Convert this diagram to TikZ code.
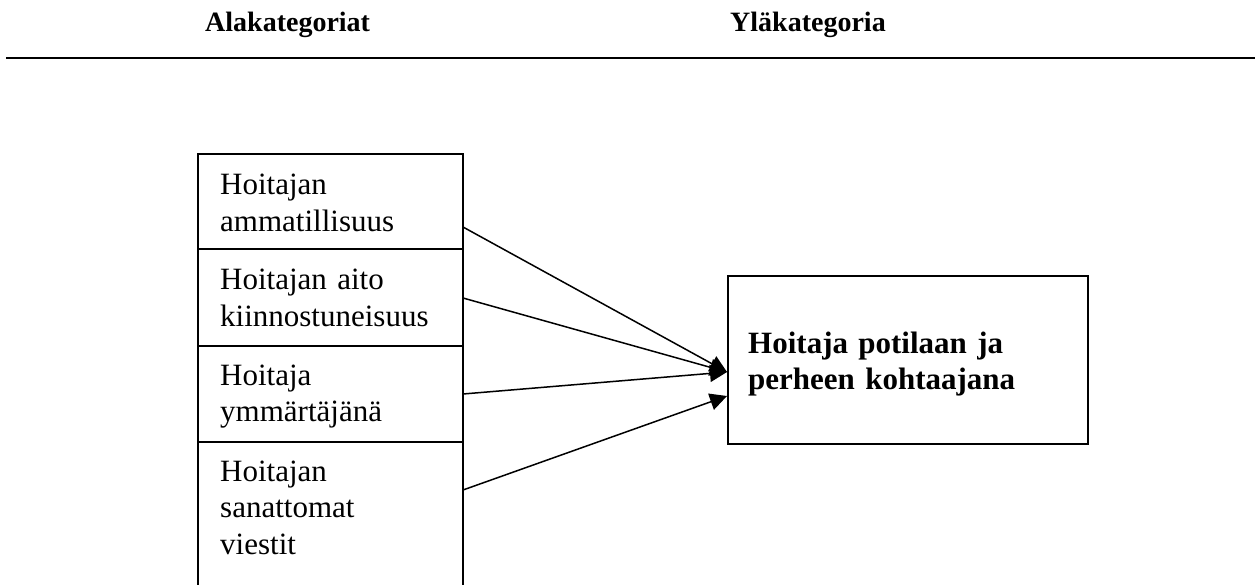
\documentclass[tikz,border=0pt]{standalone}
\usepackage{fontspec}
\setmainfont{Liberation Serif}
\usetikzlibrary{arrows.meta}
\begin{document}
\begin{tikzpicture}[x=1pt,y=-1pt,
  catbox/.style={draw=black,line width=1.6pt,inner sep=0pt},
  boxtext/.style={anchor=base west,inner sep=0pt,text width=330pt,align=left,
    font=\fontsize{31}{36.8}\selectfont},
  headtext/.style={anchor=base west,inner sep=0pt,font=\fontsize{28}{32}\selectfont\bfseries},
  conn/.style={line width=1.5pt,-{Triangle[length=17pt,width=17pt]}}]
\useasboundingbox (0,0) rectangle (1255,585);
% header
\node[headtext] (h1) at (205,32) {Alakategoriat};
\node[headtext] (h2) at (730,32) {Yläkategoria};
\draw[line width=2.2pt] (6,58) -- (1255,58);
% left boxes
\begin{scope}
\clip (0,0) rectangle (1255,585);
\draw[catbox] (198,154) rectangle (463,249);
\draw[catbox] (198,249) rectangle (463,346);
\draw[catbox] (198,346) rectangle (463,442);
\draw[catbox] (198,442) rectangle (463,600);
\end{scope}
\node[boxtext] (t1) at (220,195) {Hoitajan\\ammatillisuus};
\node[boxtext] (t2) at (220,290) {Hoitajan aito\\kiinnostuneisuus};
\node[boxtext] (t3) at (220,385) {Hoitaja\\ymmärtäjänä};
\node[boxtext] (t4) at (220,481) {Hoitajan\\sanattomat\\viestit};
% right box
\node[catbox,minimum width=360pt,minimum height=168pt,anchor=north west] (r) at (727,275) {};
\node[boxtext,font=\fontsize{31}{36.5}\selectfont\bfseries] (rt) at (748,353) {Hoitaja potilaan ja\\perheen kohtaajana};
% connector endpoints
\coordinate (s1) at (463,227);
\coordinate (s2) at (463,298);
\coordinate (s3) at (463,394);
\coordinate (s4) at (463,490);
\coordinate (e1) at (r.west |- 0,372);
\coordinate (e2) at (r.west |- 0,396);
\draw[conn] (s1) -- (e1);
\draw[conn] (s2) -- (e1);
\draw[conn] (s3) -- (e1);
\draw[conn] (s4) -- (e2);
\end{tikzpicture}
\end{document}
